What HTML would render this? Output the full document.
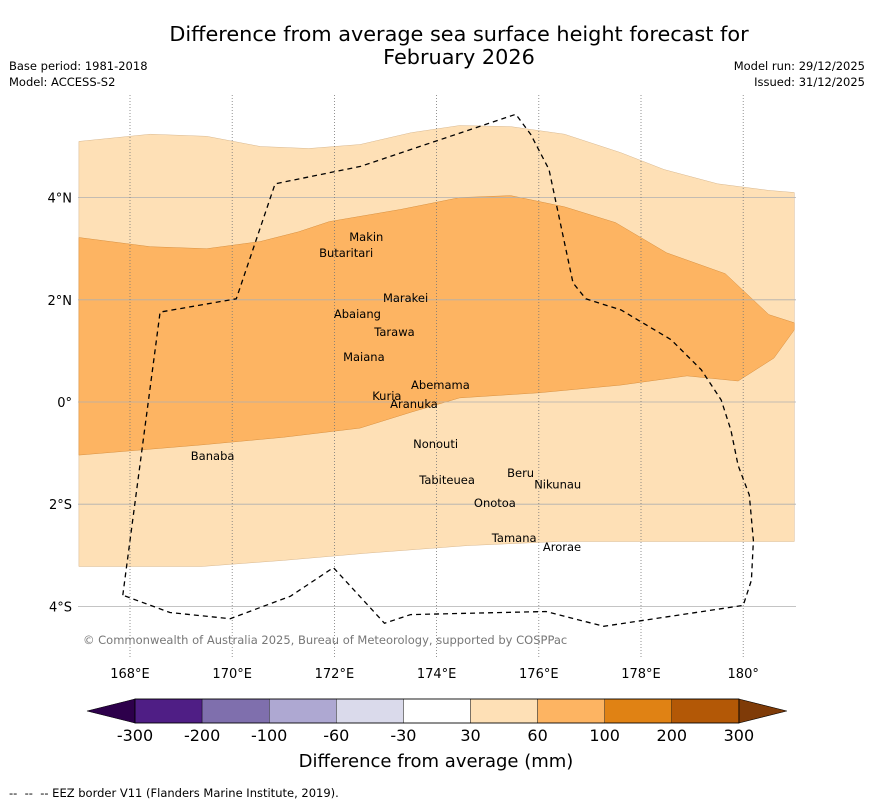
<!DOCTYPE html>
<html><head><meta charset="utf-8"><style>
body{margin:0;background:#fff;font-family:"DejaVu Sans","Liberation Sans",sans-serif}
svg text{font-family:"DejaVu Sans","Liberation Sans",sans-serif;white-space:pre}
</style></head><body>
<svg id="c" width="873" height="804" viewBox="0 0 873 804" xmlns="http://www.w3.org/2000/svg">
<text x="459" y="41" font-size="20.8" text-anchor="middle">Difference from average sea surface height forecast for</text>
<text x="459" y="64" font-size="20.8" text-anchor="middle">February 2026</text>
<text x="9" y="70" font-size="11.5">Base period: 1981-2018</text>
<text x="9" y="86" font-size="11.5">Model: ACCESS-S2</text>
<text x="865" y="70" font-size="11.5" text-anchor="end">Model run: 29/12/2025</text>
<text x="865" y="86" font-size="11.5" text-anchor="end">Issued: 31/12/2025</text>
<g id="map"></g>
<g id="cb"></g>
<text x="436" y="767" font-size="18" text-anchor="middle">Difference from average (mm)</text>
<text x="9" y="797" font-size="11.5">--  --  -- EEZ border V11 (Flanders Marine Institute, 2019).</text>
</svg>
<script>
const lonTicks=[168,170,172,174,176,178,180];
const lonLabels=["168°E","170°E","172°E","174°E","176°E","178°E","180°"];
const latTicks=[4,2,0,-2,-4];
const latLabels=["4°N","2°N","0°","2°S","4°S"];
const lightTop=[[167,5.1],[168.4,5.24],[169.5,5.2],[170.55,5.0],[171.5,4.96],[172.5,5.04],[173.5,5.27],[174.45,5.41],[175.45,5.39],[176.5,5.24],[177.6,4.88],[178.45,4.55],[179.5,4.27],[180.5,4.14],[181,4.1]];
const lightBot=[[181,-2.73],[179.6,-2.73],[178,-2.73],[176.4,-2.73],[174.6,-2.81],[172.6,-2.96],[171,-3.1],[169.4,-3.22],[167,-3.22]];
const darkTop=[[167,3.22],[168.4,3.04],[169.5,3.0],[170.55,3.14],[171.3,3.33],[171.9,3.53],[173.3,3.77],[174.45,4.0],[175.45,4.04],[176.5,3.82],[177.5,3.51],[178.5,2.92],[179.65,2.51],[180.5,1.71],[181,1.55]];
const darkBot=[[181,1.41],[180.6,0.86],[179.9,0.41],[178.9,0.51],[177.6,0.33],[176,0.18],[174.45,0.08],[173.5,-0.2],[172.5,-0.51],[171,-0.69],[169.4,-0.84],[167,-1.04]];
const eez=[[167.86,-3.78],[168.59,1.76],[170.08,2.02],[170.84,4.27],[172.51,4.61],[175.55,5.63],[175.84,5.24],[176.2,4.55],[176.67,2.33],[176.92,2.02],[177.61,1.8],[178.59,1.22],[179.18,0.63],[179.57,0.04],[179.76,-0.55],[179.9,-1.24],[180.12,-1.82],[180.2,-2.71],[180.16,-3.49],[180,-3.98],[177.27,-4.39],[176.14,-4.1],[173.49,-4.16],[172.98,-4.33],[171.98,-3.24],[171.14,-3.8],[169.96,-4.24],[168.78,-4.12],[167.86,-3.78]];
const islandNames=["Makin","Butaritari","Marakei","Abaiang","Tarawa","Maiana","Abemama","Kuria","Aranuka","Nonouti","Banaba","Beru","Nikunau","Tabiteuea","Onotoa","Tamana","Arorae"];
const islandLon=[172.29,171.70,172.95,171.99,172.78,172.17,173.5,172.74,173.09,173.54,169.19,175.38,175.91,173.66,174.73,175.08,176.08];
const islandLat=[3.23,2.92,2.04,1.72,1.37,0.88,0.33,0.12,-0.04,-0.82,-1.06,-1.39,-1.61,-1.53,-1.98,-2.66,-2.84];
const cbLabels=["-300","-200","-100","-60","-30","30","60","100","200","300"];
const cbColors=["#4f1e85","#7f6fad","#aea8d2","#dadaeb","#ffffff","#fee0b6","#fdb462","#e08214","#b35806"];
const cbMin="#2d004b",cbMax="#7f3b08";
const NS="http://www.w3.org/2000/svg";
const X=lon=>130+(lon-168)*51.1, Y=lat=>402-lat*51.1;
const L=78,R=796,T=95,B=657;
function mk(t,a,p){const e=document.createElementNS(NS,t);for(const k in a)e.setAttribute(k,a[k]);p.appendChild(e);return e;}
const map=document.getElementById('map');
function poly(pts){return pts.map(p=>X(p[0]).toFixed(1)+","+Y(p[1]).toFixed(1)).join(" ");}
let e=mk('polygon',{points:poly(lightTop.concat(lightBot)),fill:'#fee0b6',stroke:'#d8b890','stroke-width':0.5},map);


e=mk('polygon',{points:poly(darkTop.concat(darkBot)),fill:'#fdb462',stroke:'#d89040','stroke-width':0.5},map);


latTicks.forEach((v,i)=>{
 let g=mk('line',{x1:L,x2:R,y1:Y(v),y2:Y(v),stroke:'#b0b0b0','stroke-width':0.8},map);
 
 
 let t=mk('text',{x:72,y:Y(v)+5,'font-size':13,'text-anchor':'end'},map);t.textContent=latLabels[i];
 
 
});
lonTicks.forEach((v,i)=>{
 let g=mk('line',{x1:X(v),x2:X(v),y1:T,y2:B,stroke:'#777','stroke-width':0.8,'stroke-dasharray':'1,2'},map);
 
 
 let t=mk('text',{x:X(v),y:678,'font-size':13,'text-anchor':'middle'},map);t.textContent=lonLabels[i];
 
 
});
e=mk('polyline',{points:poly(eez),fill:'none',stroke:'#000','stroke-width':1.3,'stroke-dasharray':'5,4'},map);


islandNames.forEach((n,i)=>{
 let t=mk('text',{x:X(islandLon[i]),y:Y(islandLat[i])+4,'font-size':11.5},map);t.textContent=n;
 
 
});
e=mk('text',{x:83,y:644,'font-size':11.5,fill:'#777'},map);e.textContent="© Commonwealth of Australia 2025, Bureau of Meteorology, supported by COSPPac";


const cb=document.getElementById('cb');
const c0=135,cw=67.1,cy=699,ch=24;
e=mk('polygon',{points:`87,${cy+ch/2} ${c0},${cy} ${c0},${cy+ch}`,fill:cbMin,stroke:'#000','stroke-width':0.6},cb);


cbColors.forEach((c,i)=>{
 let r=mk('rect',{x:c0+i*cw,y:cy,width:cw,height:ch,fill:c,stroke:'#000','stroke-width':0.4},cb);
 
 
});
const ce=c0+cbColors.length*cw;
e=mk('polygon',{points:`${ce},${cy} ${ce+48},${cy+ch/2} ${ce},${cy+ch}`,fill:cbMax,stroke:'#000','stroke-width':0.6},cb);


e=mk('rect',{x:c0,y:cy,width:ce-c0,height:ch,fill:'none',stroke:'#000','stroke-width':0.8},cb);
cbLabels.forEach((s,i)=>{
 let t=mk('text',{x:c0+i*cw,y:741,'font-size':16,'text-anchor':'middle'},cb);t.textContent=s;
 
 
});
</script>
</body></html>
